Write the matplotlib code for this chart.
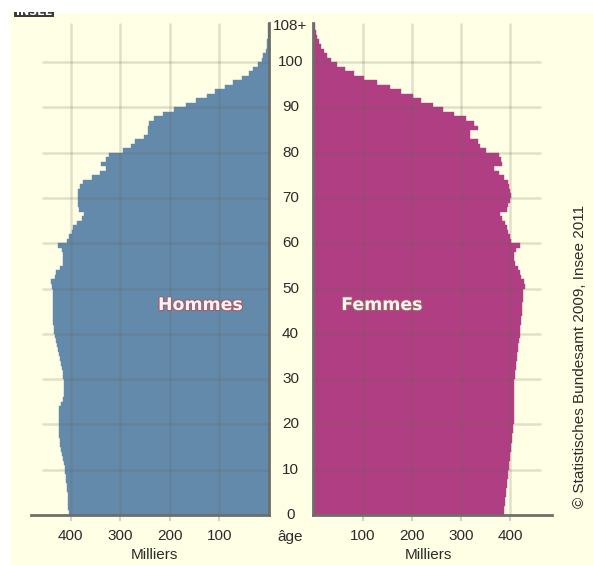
import matplotlib
matplotlib.use("Agg")
import matplotlib.pyplot as plt
import matplotlib.patheffects as pe
from matplotlib.patches import Rectangle
from matplotlib.transforms import blended_transform_factory
import numpy as np

# ---------------- data (thousands, ages 0..108+) ----------------
ages = list(range(0, 109))
age_tick_values = [0, 10, 20, 30, 40, 50, 60, 70, 80, 90, 100, 108]
age_tick_labels = ["0", "10", "20", "30", "40", "50", "60", "70", "80", "90", "100", "108+"]
x_ticks = [100, 200, 300, 400]
x_tick_labels = ["100", "200", "300", "400"]

hommes = [
    404, 405, 405, 406, 406, 407, 408, 409, 410, 411,   # 0-9
    412, 414, 416, 418, 420, 421, 422, 423, 424, 424,   # 10-19
    424, 424, 424, 423, 420, 416, 414, 413, 413, 414,   # 20-29
    415, 416, 418, 420, 422, 424, 426, 428, 430, 432,   # 30-39
    433, 434, 435, 435, 436, 436, 436, 436, 436, 435,   # 40-49
    437, 439, 432, 430, 422, 416, 415, 415, 418, 425,   # 50-59
    407, 403, 397, 396, 388, 378, 373, 383, 385, 386,   # 60-69
    386, 386, 381, 375, 358, 342, 329, 338, 329, 322,   # 70-79
    295, 279, 270, 253, 245, 245, 243, 232, 213, 191,   # 80-89
    168, 148, 125, 109, 88, 72, 55, 41, 31, 21,         # 90-99
    14, 11, 6, 4, 3, 2, 1, 1, 1,                        # 100-108+
]

femmes = [
    388, 388, 389, 390, 391, 392, 393, 394, 395, 396,   # 0-9
    397, 398, 399, 400, 401, 402, 403, 404, 405, 406,   # 10-19
    407, 408, 408, 407, 407, 408, 408, 408, 408, 408,   # 20-29
    409, 410, 411, 412, 413, 414, 415, 416, 418, 419,   # 30-39
    420, 420, 421, 422, 423, 424, 424, 425, 426, 426,   # 40-49
    430, 428, 422, 419, 415, 410, 408, 408, 412, 419,   # 50-59
    402, 400, 395, 393, 390, 383, 379, 393, 395, 400,   # 60-69
    402, 400, 398, 396, 388, 376, 366, 383, 381, 377,   # 70-79
    350, 339, 334, 318, 318, 334, 327, 310, 286, 263,   # 80-89
    243, 219, 202, 178, 155, 129, 103, 83, 64, 49,      # 90-99
    35, 27, 22, 16, 11, 8, 6, 4, 3,                     # 100-108+
]

# ---------------- style ----------------
W, H = 593, 565
bg = "#FFFFE5"
blue = "#6389AB"
magenta = "#B03E82"
grid_c = (0.40, 0.40, 0.36)
spine_c = "#6e6e6a"
txt_c = "#2b2b2b"
tick_font = "Liberation Sans"

fig = plt.figure(figsize=(W / 100, H / 100), dpi=100)
fig.patch.set_facecolor("white")
fig.add_artist(Rectangle((10 / W, 0), 1 - 10 / W, (H - 13) / H,
                         transform=fig.transFigure, facecolor=bg,
                         edgecolor="none", zorder=0))

def fx(px):
    return px / W

def fy(py):
    return 1 - py / H

y_bot, y_top = 515, 22.7
ax_b = fy(y_bot)
ax_h = (y_bot - y_top) / H

axL = fig.add_axes([fx(30.7), ax_b, (268.8 - 30.7) / W, ax_h])
axR = fig.add_axes([fx(313.3), ax_b, (551.7 - 313.3) / W, ax_h])

for ax, vals, col, xmax, gx in [(axL, hommes, blue, 481, 458),
                                 (axR, femmes, magenta, 484, 462)]:
    ax.set_facecolor("none")
    ax.barh(ages, vals, height=1, align="edge", color=col,
            edgecolor=col, linewidth=0.3, zorder=2)
    ax.set_ylim(0, 108.7)
    ax.set_xlim(0, xmax)
    # grid
    ax.vlines(x_ticks, 0, 108.7, color=grid_c, alpha=0.2, lw=1.8, zorder=3)
    ax.hlines(age_tick_values[1:-1], 0, gx, color=grid_c, alpha=0.2, lw=1.8, zorder=3)
    ax.set_yticks([])
    ax.set_xticks(x_ticks)
    ax.set_xticklabels(x_tick_labels, fontsize=11, family=tick_font, color=txt_c)
    ax.tick_params(axis="x", length=4, width=1.5, color=(0.82, 0.82, 0.77), pad=6)
    for s in ax.spines.values():
        s.set_visible(False)
    ax.spines["bottom"].set_visible(True)
    ax.spines["bottom"].set_color(spine_c)
    ax.spines["bottom"].set_linewidth(2)

axL.invert_xaxis()
axL.spines["right"].set_visible(True)
axL.spines["right"].set_color(spine_c)
axL.spines["right"].set_linewidth(2)
axR.spines["left"].set_visible(True)
axR.spines["left"].set_color(spine_c)
axR.spines["left"].set_linewidth(2)

# age labels between the panels
tr = blended_transform_factory(fig.transFigure, axL.transData)
for v, lab in zip(age_tick_values, age_tick_labels):
    fig.text(fx(290.5), v, lab, transform=tr, ha="center", va="center",
             fontsize=11, family=tick_font, color=txt_c)

fig.text(fx(290.5), fy(537), "âge", ha="center", va="center",
         fontsize=11, family=tick_font, color=txt_c)
fig.text(fx(154), fy(555), "Milliers", ha="center", va="center",
         fontsize=11, family=tick_font, color=txt_c)
fig.text(fx(428), fy(555), "Milliers", ha="center", va="center",
         fontsize=11, family=tick_font, color=txt_c)

stroke = [pe.withStroke(linewidth=1.6, foreground="#a0606a")]
fig.text(fx(200.5), fy(305), "Hommes", ha="center", va="center",
         fontsize=12.5, family="DejaVu Sans", weight="bold",
         color="#fdf2f4", path_effects=stroke, zorder=10)
fig.text(fx(382), fy(305), "Femmes", ha="center", va="center",
         fontsize=12.5, family="DejaVu Sans", weight="bold",
         color="#fdf2f4", path_effects=stroke, zorder=10)

fig.text(fx(580), fy(356), "© Statistisches Bundesamt 2009, Insee 2011",
         rotation=90, ha="center", va="center", fontsize=11,
         family=tick_font, color=txt_c)

# INSEE logo (cropped at the top)
axLogo = fig.add_axes([fx(14), fy(17.3), 40 / W, 5.6 / H])
axLogo.set_facecolor("#3c3c3c")
axLogo.set_xticks([]); axLogo.set_yticks([])
for s in axLogo.spines.values():
    s.set_visible(False)
axLogo.text(0.5, 0.35, "INSEE", ha="center", va="baseline", color="white",
            fontsize=8, weight="bold", transform=axLogo.transAxes, clip_on=True)

fig.savefig("out.png", dpi=100, facecolor=fig.get_facecolor())
